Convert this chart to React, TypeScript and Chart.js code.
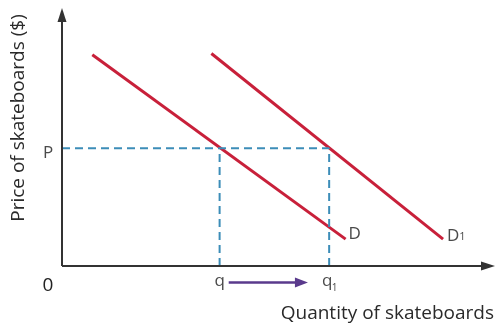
import React, { useEffect, useRef } from "react";
import { Chart, registerables } from "chart.js";

Chart.register(...registerables);

// ---- data (in chart units) ----
const X_MAX = 100;
const Y_MAX = 100;
const demandD = [
  { x: 7, y: 82.5 },
  { x: 65.5, y: 10.5 },
];
const demandD1 = [
  { x: 34.5, y: 83 },
  { x: 88, y: 10.5 },
];
const priceP = 46;
const qtyQ = 36.4;
const qtyQ1 = 61.7;
const shiftArrow = [38.5, 56.8];
const curveLabels = ["D", "D", "1"];
const axisTitles = ["Price of skateboards ($)", "Quantity of skateboards"];
const tickTexts = ["P", "q", "q", "1", "0"];

const RED = "#c8203a";
const BLUE = "#3c8db8";
const PURPLE = "#5a3a8c";
const AXIS = "#333333";
const FONT = "'Open Sans', sans-serif";

const overlay = {
  id: "econOverlay",
  afterDatasetsDraw(chart: any) {
    const { ctx, scales } = chart;
    const xs = scales.x;
    const ys = scales.y;
    const x0 = xs.getPixelForValue(0);
    const y0 = ys.getPixelForValue(0);
    const xEnd = xs.getPixelForValue(X_MAX);
    const yEnd = ys.getPixelForValue(Y_MAX);
    ctx.save();
    // axes
    ctx.strokeStyle = AXIS;
    ctx.fillStyle = AXIS;
    ctx.lineWidth = 2;
    ctx.beginPath();
    ctx.moveTo(x0, y0);
    ctx.lineTo(x0, yEnd + 8);
    ctx.moveTo(x0, y0);
    ctx.lineTo(xEnd - 8, y0);
    ctx.stroke();
    ctx.beginPath();
    ctx.moveTo(x0, yEnd - 2);
    ctx.lineTo(x0 - 4.5, yEnd + 12);
    ctx.lineTo(x0 + 4.5, yEnd + 12);
    ctx.closePath();
    ctx.fill();
    ctx.beginPath();
    ctx.moveTo(xEnd, y0);
    ctx.lineTo(xEnd - 14, y0 - 4.5);
    ctx.lineTo(xEnd - 14, y0 + 4.5);
    ctx.closePath();
    ctx.fill();

    // shift arrow
    const ay = y0 + 16.5;
    const ax1 = xs.getPixelForValue(shiftArrow[0]);
    const ax2 = xs.getPixelForValue(shiftArrow[1]);
    ctx.strokeStyle = PURPLE;
    ctx.fillStyle = PURPLE;
    ctx.lineWidth = 2.5;
    ctx.beginPath();
    ctx.moveTo(ax1, ay);
    ctx.lineTo(ax2 - 8, ay);
    ctx.stroke();
    ctx.beginPath();
    ctx.moveTo(ax2, ay);
    ctx.lineTo(ax2 - 13, ay - 5);
    ctx.lineTo(ax2 - 13, ay + 5);
    ctx.closePath();
    ctx.fill();

    // labels
    ctx.fillStyle = "#4a4a4a";
    ctx.textBaseline = "middle";
    ctx.textAlign = "center";
    ctx.font = `17px ${FONT}`;
    ctx.fillText(tickTexts[0], x0 - 14, ys.getPixelForValue(priceP) + 5);
    ctx.fillText(tickTexts[1], xs.getPixelForValue(qtyQ), y0 + 15);
    const q1x = xs.getPixelForValue(qtyQ1);
    ctx.fillText(tickTexts[2], q1x - 2, y0 + 15);
    ctx.font = `10px ${FONT}`;
    ctx.fillText(tickTexts[3], q1x + 5.5, y0 + 22);
    ctx.font = `19px ${FONT}`;
    ctx.fillStyle = "#222";
    ctx.fillText(tickTexts[4], x0 - 14, y0 + 20);

    // curve labels
    ctx.fillStyle = "#4a4a4a";
    ctx.textAlign = "left";
    ctx.font = `17px ${FONT}`;
    const dEnd = demandD[demandD.length - 1];
    const d1End = demandD1[demandD1.length - 1];
    ctx.fillText(curveLabels[0], xs.getPixelForValue(dEnd.x) + 3, ys.getPixelForValue(dEnd.y) - 5);
    const d1x = xs.getPixelForValue(d1End.x) + 4;
    const d1y = ys.getPixelForValue(d1End.y) - 3;
    ctx.fillText(curveLabels[1], d1x, d1y);
    const w = ctx.measureText(curveLabels[1]).width;
    ctx.font = `11px ${FONT}`;
    ctx.fillText(curveLabels[2], d1x + w, d1y + 1);

    // axis titles
    ctx.fillStyle = "#2a2a2a";
    ctx.font = `19px ${FONT}`;
    ctx.textAlign = "right";
    ctx.fillText(axisTitles[1], 494, 314);
    ctx.save();
    ctx.translate(19, 118);
    ctx.rotate(-Math.PI / 2);
    ctx.textAlign = "center";
    ctx.fillText(axisTitles[0], 0, 0);
    ctx.restore();
    ctx.restore();
  },
};

export default function App() {
  const ref = useRef<HTMLCanvasElement>(null);
  useEffect(() => {
    if (!ref.current) return;
    const dash = [8, 5];
    const chart = new Chart(ref.current, {
      type: "scatter",
      data: {
        datasets: [
          {
            label: "P",
            data: [
              { x: 0, y: priceP },
              { x: qtyQ1, y: priceP },
            ],
            showLine: true,
            borderColor: BLUE,
            borderWidth: 2,
            borderDash: dash,
            pointRadius: 0,
          },
          {
            label: "q",
            data: [
              { x: qtyQ, y: 0 },
              { x: qtyQ, y: priceP },
            ],
            showLine: true,
            borderColor: BLUE,
            borderWidth: 2,
            borderDash: dash,
            pointRadius: 0,
          },
          {
            label: "q1",
            data: [
              { x: qtyQ1, y: 0 },
              { x: qtyQ1, y: priceP },
            ],
            showLine: true,
            borderColor: BLUE,
            borderWidth: 2,
            borderDash: dash,
            pointRadius: 0,
          },
          {
            label: "D",
            data: demandD,
            showLine: true,
            borderColor: RED,
            borderWidth: 3,
            pointRadius: 0,
          },
          {
            label: "D1",
            data: demandD1,
            showLine: true,
            borderColor: RED,
            borderWidth: 3,
            pointRadius: 0,
          },
        ],
      },
      options: {
        animation: false,
        responsive: false,
        events: [],
        layout: { padding: { left: 62, top: 10, right: 3, bottom: 63 } },
        plugins: { legend: { display: false }, tooltip: { enabled: false } },
        scales: {
          x: { type: "linear", min: 0, max: X_MAX, display: false },
          y: { type: "linear", min: 0, max: Y_MAX, display: false },
        },
      },
      plugins: [overlay],
    });
    return () => chart.destroy();
  }, []);
  return (
    <div style={{ position: "fixed", left: 0, top: 0, width: 498, height: 329, background: "#fff" }}>
      <canvas ref={ref} width={498} height={329} style={{ width: 498, height: 329 }} />
    </div>
  );
}
